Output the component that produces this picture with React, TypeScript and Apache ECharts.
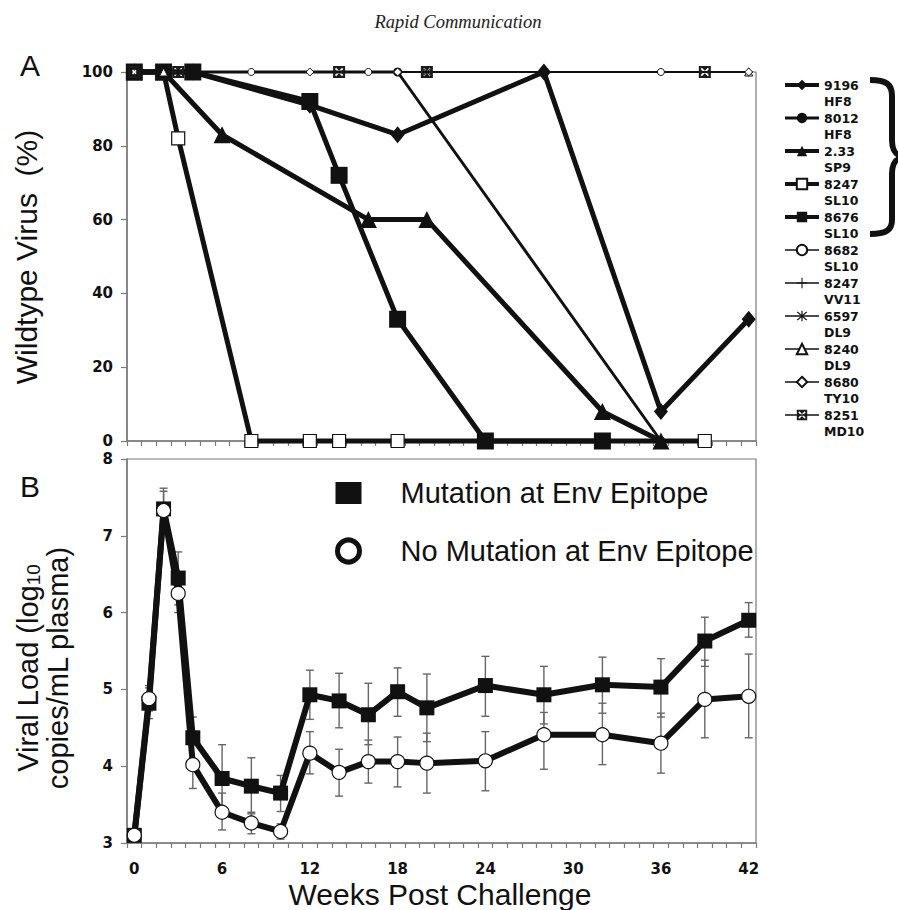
import React, { useEffect, useRef } from "react";
import * as echarts from "echarts";

// ---------- shared x categories (weeks post challenge) ----------
const weekCategories = [
  "0", "1", "2", "3", "4", "5", "6", "7", "8", "9", "10", "11", "12", "13", "14",
  "15", "16", "17", "18", "19", "20", "21", "22", "23", "24", "25", "26", "27", "28",
  "29", "30", "31", "32", "33", "34", "35", "36", "37", "38", "39", "40", "41", "42",
];

// ---------- Panel A: Wildtype virus (%) ----------
const a9196Weeks = [0, 4, 12, 18, 28, 36, 42];
const a9196Values = [100, 100, 91, 83, 100, 8, 33];
const a8012Weeks = [0, 18, 36];
const a8012Values = [100, 100, 0];
const a233Weeks = [0, 2, 6, 16, 20, 32, 36];
const a233Values = [100, 100, 83, 60, 60, 8, 0];
const a8247slWeeks = [0, 2, 3, 8, 12, 14, 18, 39];
const a8247slValues = [100, 100, 82, 0, 0, 0, 0, 0];
const a8676Weeks = [0, 2, 4, 12, 14, 18, 24, 32];
const a8676Values = [100, 100, 100, 92, 72, 33, 0, 0];
const a8682Weeks = [0, 8, 16, 36];
const a8682Values = [100, 100, 100, 100];
const a8247vvWeeks = [0, 42];
const a8247vvValues = [100, 100];
const a6597Weeks = [0, 20];
const a6597Values = [100, 100];
const a8240Weeks = [2, 42];
const a8240Values = [100, 100];
const a8680Weeks = [0, 12, 18, 42];
const a8680Values = [100, 100, 100, 100];
const a8251Weeks = [0, 3, 14, 20, 39];
const a8251Values = [100, 100, 100, 100, 100];

const aYTicks = { min: 0, max: 100, interval: 20 };

// ---------- Panel B: Viral load ----------
const bWeeks = [0, 1, 2, 3, 4, 6, 8, 10, 12, 14, 16, 18, 20, 24, 28, 32, 36, 39, 42];
const mutationMean = [3.1, 4.82, 7.35, 6.45, 4.37, 3.84, 3.74, 3.65, 4.93, 4.85, 4.67, 4.97, 4.76, 5.05, 4.93, 5.06, 5.03, 5.63, 5.9];
const mutationLow = [3.1, 4.62, 7.1, 6.1, 4.1, 3.4, 3.38, 3.41, 4.61, 4.5, 4.28, 4.65, 4.32, 4.65, 4.55, 4.69, 4.64, 5.3, 5.68];
const mutationHigh = [3.1, 5.05, 7.62, 6.79, 4.64, 4.28, 4.11, 3.88, 5.25, 5.21, 5.08, 5.28, 5.2, 5.43, 5.3, 5.42, 5.4, 5.94, 6.13];
const noMutationMean = [3.1, 4.88, 7.33, 6.25, 4.02, 3.4, 3.26, 3.15, 4.17, 3.92, 4.06, 4.06, 4.04, 4.07, 4.41, 4.41, 4.3, 4.87, 4.91];
const noMutationLow = [3.1, 4.72, 7.1, 6.0, 3.71, 3.17, 3.12, 3.05, 3.9, 3.61, 3.78, 3.73, 3.65, 3.68, 3.96, 4.02, 3.91, 4.37, 4.37];
const noMutationHigh = [3.1, 5.02, 7.58, 6.5, 4.32, 3.65, 3.4, 3.25, 4.45, 4.22, 4.34, 4.38, 4.43, 4.45, 4.7, 4.82, 4.69, 5.38, 5.46];

const bYTicks = { min: 3, max: 8, interval: 1 };

const BRACE_D =
  "M870,80 C886,80 892,84 892,96 L892,140 C892,150 895,155 903,157 C895,159 892,164 892,174 L892,220 C892,230 886,234 870,234";

const XBOX =
  "path://M0,0L10,0L10,10L0,10Z M4,5L1.5,7.5L2.5,8.5L5,6L7.5,8.5L8.5,7.5L6,5L8.5,2.5L7.5,1.5L5,4L2.5,1.5L1.5,2.5Z";
const ASTERISK =
  "path://M4.5,0L5.5,0L5.5,10L4.5,10Z M0.6,1.4L1.4,0.6L9.4,8.6L8.6,9.4Z M8.6,0.6L9.4,1.4L1.4,9.4L0.6,8.6Z";
const PLUS = "path://M4.5,0L5.5,0L5.5,10L4.5,10Z M0,4.5L10,4.5L10,5.5L0,5.5Z";

let braceRegistered = false;

function pairs(weeks: number[], values: number[]) {
  return weeks.map((w, i) => [w, values[i]]);
}
function triples(weeks: number[], lo: number[], hi: number[]) {
  return weeks.map((w, i) => [w, lo[i], hi[i]]);
}

const INK = "#111";
const AXIS = "#7a7a7a";

function aSeries(
  name: string,
  weeks: number[],
  values: number[],
  symbol: string,
  symbolSize: any,
  lineWidth: number,
  fill: string,
  borderWidth = 0
) {
  return {
    name,
    type: "line",
    xAxisIndex: 0,
    yAxisIndex: 0,
    data: pairs(weeks, values),
    symbol,
    symbolSize,
    showAllSymbol: true,
    clip: false,
    lineStyle: { color: INK, width: lineWidth },
    itemStyle: { color: fill, borderColor: INK, borderWidth },
    emphasis: { disabled: true },
  };
}

function errorRender(params: any, api: any) {
  const x = api.value(0);
  const lo = api.coord([x, api.value(1)]);
  const hi = api.coord([x, api.value(2)]);
  const w = 4;
  const st = { stroke: "#666", lineWidth: 1.4 };
  return {
    type: "group",
    children: [
      { type: "line", shape: { x1: hi[0], y1: hi[1], x2: lo[0], y2: lo[1] }, style: st },
      { type: "line", shape: { x1: hi[0] - w, y1: hi[1], x2: hi[0] + w, y2: hi[1] }, style: st },
      { type: "line", shape: { x1: lo[0] - w, y1: lo[1], x2: lo[0] + w, y2: lo[1] }, style: st },
    ],
  };
}

export default function App() {
  const ref = useRef<HTMLDivElement>(null);

  useEffect(() => {
    document.body.style.margin = "0";
    if (!braceRegistered) {
      echarts.graphic.registerShape("brace", echarts.graphic.extendPath(BRACE_D, {}));
      braceRegistered = true;
    }
    const chart = echarts.init(ref.current!, null, { renderer: "svg" });

    const tickLabel = {
      fontFamily: "DejaVu Sans",
      fontWeight: "bold",
      fontSize: 15,
      color: INK,
    };

    const legendAItems = [
      { name: "9196\nHF8", lineStyle: { width: 4 } },
      { name: "8012\nHF8", lineStyle: { width: 3 } },
      { name: "2.33\nSP9", lineStyle: { width: 4 } },
      { name: "8247\nSL10", lineStyle: { width: 4 } },
      { name: "8676\nSL10", lineStyle: { width: 4 } },
      { name: "8682\nSL10", lineStyle: { width: 1.5 } },
      { name: "8247\nVV11", lineStyle: { width: 1.5 } },
      { name: "6597\nDL9", lineStyle: { width: 1.5 } },
      { name: "8240\nDL9", lineStyle: { width: 1.5 } },
      { name: "8680\nTY10", lineStyle: { width: 1.5 } },
      { name: "8251\nMD10", lineStyle: { width: 1.5 } },
    ];

    const option: any = {
      animation: false,
      backgroundColor: "#fff",
      grid: [
        { left: 127, top: 72, width: 629, height: 369, show: true, borderColor: AXIS, borderWidth: 1.2, backgroundColor: "transparent" },
        { left: 127, top: 459, width: 629, height: 384, show: true, borderColor: AXIS, borderWidth: 1.2, backgroundColor: "transparent" },
      ],
      xAxis: [
        {
          gridIndex: 0,
          type: "category",
          data: weekCategories,
          boundaryGap: true,
          axisLine: { lineStyle: { color: AXIS, width: 1.5 } },
          axisTick: { show: true, interval: 0, length: 5, lineStyle: { color: AXIS, width: 1.2 } },
          axisLabel: { show: false },
          splitLine: { show: false },
        },
        {
          gridIndex: 1,
          type: "category",
          data: weekCategories,
          boundaryGap: true,
          axisLine: { lineStyle: { color: AXIS, width: 1.5 } },
          axisTick: { show: true, interval: 0, length: 5, lineStyle: { color: AXIS, width: 1.2 } },
          axisLabel: { ...tickLabel, interval: 5, margin: 18 },
          splitLine: { show: false },
        },
      ],
      yAxis: [
        {
          gridIndex: 0,
          type: "value",
          ...aYTicks,
          axisLine: { show: true, lineStyle: { color: AXIS, width: 1.5 } },
          axisTick: { show: true, length: 6, lineStyle: { color: AXIS, width: 1.2 } },
          axisLabel: { ...tickLabel, margin: 14 },
          splitLine: { show: false },
        },
        {
          gridIndex: 1,
          type: "value",
          ...bYTicks,
          axisLine: { show: true, lineStyle: { color: AXIS, width: 1.5 } },
          axisTick: { show: true, length: 6, lineStyle: { color: AXIS, width: 1.2 } },
          axisLabel: { ...tickLabel, margin: 14 },
          splitLine: { show: false },
        },
      ],
      legend: [
        {
          orient: "vertical",
          left: 783,
          top: 61,
          padding: 0,
          itemWidth: 34,
          itemHeight: 13,
          itemGap: -15,
          selectedMode: false,
          formatter: (name: string) => "\n" + name,
          textStyle: {
            fontFamily: "DejaVu Sans",
            fontWeight: "bold",
            fontSize: 12.5,
            lineHeight: 16,
            color: INK,
          },
          data: legendAItems,
        },
        {
          orient: "vertical",
          left: 335,
          top: 478,
          padding: 0,
          itemWidth: 26,
          itemHeight: 22,
          itemGap: 28,
          selectedMode: false,
          textStyle: {
            fontFamily: "Liberation Sans",
            fontSize: 29,
            lineHeight: 30,
            color: INK,
            padding: [0, 0, 0, 34],
          },
          data: [
            { name: "Mutation at Env Epitope", icon: "rect", itemStyle: { color: INK, borderWidth: 0 } },
            {
              name: "No Mutation at Env Epitope",
              icon: "circle",
              itemStyle: { color: "#fff", borderColor: INK, borderWidth: 5 },
            },
          ],
        },
      ],
      series: [
        aSeries("8012\nHF8", a8012Weeks, a8012Values, "circle", 9, 3, INK),
        aSeries("9196\nHF8", a9196Weeks, a9196Values, "diamond", [14, 17], 5, INK),
        aSeries("8247\nSL10", a8247slWeeks, a8247slValues, "rect", 13, 5, "#fff", 1.2),
        aSeries("8676\nSL10", a8676Weeks, a8676Values, "rect", 17, 5, INK),
        aSeries("2.33\nSP9", a233Weeks, a233Values, "triangle", 17, 5, INK),
        aSeries("8682\nSL10", a8682Weeks, a8682Values, "circle", 7, 1.5, "#fff", 1),
        aSeries("8247\nVV11", a8247vvWeeks, a8247vvValues, PLUS, 9, 1.5, INK),
        aSeries("6597\nDL9", a6597Weeks, a6597Values, ASTERISK, 9, 1.5, INK),
        aSeries("8240\nDL9", a8240Weeks, a8240Values, "triangle", 8, 1.5, "#fff", 1),
        aSeries("8680\nTY10", a8680Weeks, a8680Values, "diamond", 8, 1.5, "#fff", 1),
        aSeries("8251\nMD10", a8251Weeks, a8251Values, XBOX, 12, 1.5, "#1a1a1a"),
        {
          name: "mutationError",
          type: "custom",
          xAxisIndex: 1,
          yAxisIndex: 1,
          z: 1,
          renderItem: errorRender,
          encode: { x: 0, y: [1, 2] },
          data: triples(bWeeks, mutationLow, mutationHigh),
          silent: true,
        },
        {
          name: "noMutationError",
          type: "custom",
          xAxisIndex: 1,
          yAxisIndex: 1,
          z: 1,
          renderItem: errorRender,
          encode: { x: 0, y: [1, 2] },
          data: triples(bWeeks, noMutationLow, noMutationHigh),
          silent: true,
        },
        {
          name: "Mutation at Env Epitope",
          type: "line",
          xAxisIndex: 1,
          yAxisIndex: 1,
          z: 3,
          data: pairs(bWeeks, mutationMean),
          symbol: "rect",
          symbolSize: 15,
          showAllSymbol: true,
          clip: false,
          lineStyle: { color: INK, width: 6 },
          itemStyle: { color: INK },
          emphasis: { disabled: true },
        },
        {
          name: "No Mutation at Env Epitope",
          type: "line",
          xAxisIndex: 1,
          yAxisIndex: 1,
          z: 3,
          data: pairs(bWeeks, noMutationMean),
          symbol: "circle",
          symbolSize: 14,
          showAllSymbol: true,
          clip: false,
          lineStyle: { color: INK, width: 6 },
          itemStyle: { color: "#fff", borderColor: INK, borderWidth: 1.2 },
          emphasis: { disabled: true },
        },
      ],
      graphic: [
        {
          type: "text",
          x: 458,
          y: 22,
          style: {
            text: "Rapid Communication",
            font: 'italic 18.5px "Liberation Serif"',
            fill: "#222",
            textAlign: "center",
            textVerticalAlign: "middle",
          },
        },
        {
          type: "text",
          x: 30,
          y: 65,
          style: { text: "A", font: '30px "Liberation Sans"', fill: INK, textAlign: "center", textVerticalAlign: "middle" },
        },
        {
          type: "text",
          x: 30,
          y: 486,
          style: { text: "B", font: '30px "Liberation Sans"', fill: INK, textAlign: "center", textVerticalAlign: "middle" },
        },
        {
          type: "text",
          x: 26.5,
          y: 257,
          rotation: Math.PI / 2,
          style: {
            text: "Wildtype Virus  (%)",
            font: '30px "Liberation Sans"',
            fill: INK,
            textAlign: "center",
            textVerticalAlign: "middle",
          },
        },
        {
          type: "text",
          x: 43,
          y: 668,
          rotation: Math.PI / 2,
          style: {
            text: "{n|Viral Load (log}{s|10}\n{n|copies/mL plasma)}",
            textAlign: "center",
            textVerticalAlign: "middle",
            fill: INK,
            rich: {
              n: { fontFamily: "Liberation Sans", fontSize: 29, lineHeight: 30, fill: INK, color: INK },
              s: { fontFamily: "Liberation Sans", fontSize: 19, lineHeight: 19, verticalAlign: "bottom", fill: INK, color: INK },
            },
          },
        },
        {
          type: "text",
          x: 440,
          y: 894,
          style: {
            text: "Weeks Post Challenge",
            font: '30px "Liberation Sans"',
            fill: INK,
            textAlign: "center",
            textVerticalAlign: "middle",
          },
        },
        {
          type: "brace",
          x: 0,
          y: 0,
          style: { stroke: INK, lineWidth: 6, fill: "none" },
        },
      ],
    };

    chart.setOption(option);
    return () => chart.dispose();
  }, []);

  return <div ref={ref} style={{ width: 898, height: 910 }} />;
}
